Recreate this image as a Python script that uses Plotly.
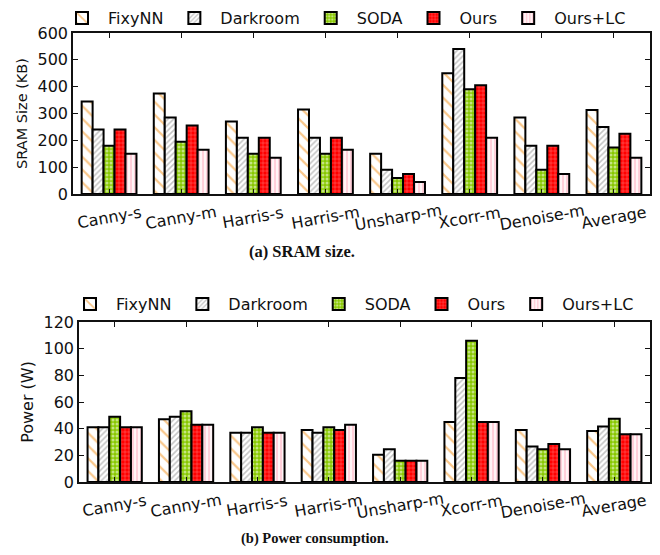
import plotly.graph_objects as go

categories = ["Canny-s", "Canny-m", "Harris-s", "Harris-m", "Unsharp-m", "Xcorr-m", "Denoise-m", "Average"]
series_names = ["FixyNN", "Darkroom", "SODA", "Ours", "Ours+LC"]

sram_fixynn = [345, 375, 270, 315, 150, 450, 285, 313]
sram_darkroom = [240, 285, 210, 210, 90, 540, 180, 250]
sram_soda = [180, 195, 150, 150, 60, 390, 90, 173]
sram_ours = [240, 255, 210, 210, 75, 405, 180, 225]
sram_ourslc = [150, 165, 135, 165, 45, 210, 75, 135]

power_fixynn = [41, 47, 37, 39, 20.5, 45, 39, 38.3]
power_darkroom = [41, 49, 37, 37, 24.5, 78, 26.7, 41.7]
power_soda = [49, 53, 41, 41, 16, 106, 24.5, 47.5]
power_ours = [41, 43, 37, 39, 16, 45, 28.5, 35.8]
power_ourslc = [41, 43, 37, 43, 16, 45, 24.5, 35.8]

sram_ticks = [0, 100, 200, 300, 400, 500, 600]
power_ticks = [0, 20, 40, 60, 80, 100, 120]

sram = [sram_fixynn, sram_darkroom, sram_soda, sram_ours, sram_ourslc]
power = [power_fixynn, power_darkroom, power_soda, power_ours, power_ourslc]

styles = [
    dict(shape="\\", fg="#f39016", bg="#ffffff", size=9, sol=0.25),
    dict(shape="/", fg="#8a8a8a", bg="#ffffff", size=4, sol=0.4),
    dict(shape=".", fg="#ffffff", bg="#88c800", size=4, sol=0.45),
    dict(shape="+", fg="#ffffff", bg="#ff0000", size=4, sol=0.2),
    dict(shape="|", fg="#ffa3b7", bg="#fff4f6", size=4, sol=0.45),
]

fig = go.Figure()
for i, name in enumerate(series_names):
    s = styles[i]
    for vals, xa, ya, leg in [(sram[i], "x", "y", "legend"), (power[i], "x2", "y2", "legend2")]:
        fig.add_trace(go.Bar(
            x=categories, y=vals, name=name, xaxis=xa, yaxis=ya, legend=leg,
            marker=dict(
                color=s["bg"],
                line=dict(color="#000000", width=2),
                pattern=dict(shape=s["shape"], fgcolor=s["fg"], bgcolor=s["bg"],
                             size=s["size"], solidity=s["sol"]),
            ),
        ))

# page body has an 8px margin, so figure is sized to fill the rest of the window
W, H = 652, 547
font = "DejaVu Sans"

def xax(domain, anchor):
    return dict(domain=domain, anchor=anchor, type="category", range=[-0.5, 7.5],
                automargin=False, showticklabels=False,
                showline=True, linecolor="#111111", linewidth=1.5, mirror="ticks",
                ticks="inside", ticklen=5, tickcolor="#111111", tickwidth=1,
                showgrid=False, zeroline=False)

def yax(domain, anchor, rng, ticks, title, tsize):
    return dict(domain=domain, anchor=anchor, range=rng, tickvals=ticks,
                automargin=False,
                showline=True, linecolor="#111111", linewidth=1.5, mirror="ticks",
                ticks="inside", ticklen=5, tickcolor="#111111", tickwidth=1,
                tickfont=dict(family=font, size=16, color="#111111"),
                title=dict(text=title, font=dict(family=font, size=tsize, color="#111111"), standoff=6),
                showgrid=False, zeroline=False)

annotations = []
for cat in categories:
    for xr, ypx in [("x", 209), ("x2", 497)]:
        annotations.append(dict(text=cat, xref=xr, yref="paper", x=cat, y=1 - ypx / H,
                                xanchor="center", yanchor="middle", textangle=-10, showarrow=False,
                                font=dict(family=font, size=16, color="#111111")))
annotations += [
    dict(text="<b>(a) SRAM size.</b>", xref="paper", yref="paper", x=294 / W, y=1 - 244 / H,
         xanchor="center", yanchor="middle",
         showarrow=False, font=dict(family="Liberation Serif", size=16.5, color="#111111")),
    dict(text="<b>(b) Power consumption.</b>", xref="paper", yref="paper", x=307 / W, y=1 - 530 / H,
         xanchor="center", yanchor="middle",
         showarrow=False, font=dict(family="Liberation Serif", size=14.5, color="#111111")),
]

fig.update_layout(
    width=W, height=H,
    margin=dict(l=0, r=0, t=0, b=0, autoexpand=False),
    paper_bgcolor="white", plot_bgcolor="white",
    barmode="group", bargap=0.24, bargroupgap=0,
    xaxis=xax([65 / W, 642 / W], "y"),
    yaxis=yax([1 - 186 / H, 1 - 25 / H], "x", [0, 600], sram_ticks, "SRAM Size (KB)", 14.5),
    xaxis2=xax([71 / W, 642 / W], "y2"),
    yaxis2=yax([1 - 474 / H, 1 - 314 / H], "x2", [0, 120], power_ticks, "Power (W)", 16),
    legend=dict(orientation="h", x=48 / W, y=1 + 7 / H, xanchor="left", yanchor="top",
                font=dict(family=font, size=16, color="#111111"), bgcolor="rgba(0,0,0,0)",
                traceorder="normal", itemwidth=42),
    legend2=dict(orientation="h", x=56 / W, y=1 - 279 / H, xanchor="left", yanchor="top",
                 font=dict(family=font, size=16, color="#111111"), bgcolor="rgba(0,0,0,0)",
                 traceorder="normal", itemwidth=42),
    showlegend=True,
    annotations=annotations,
)

fig.write_html("out.html")
